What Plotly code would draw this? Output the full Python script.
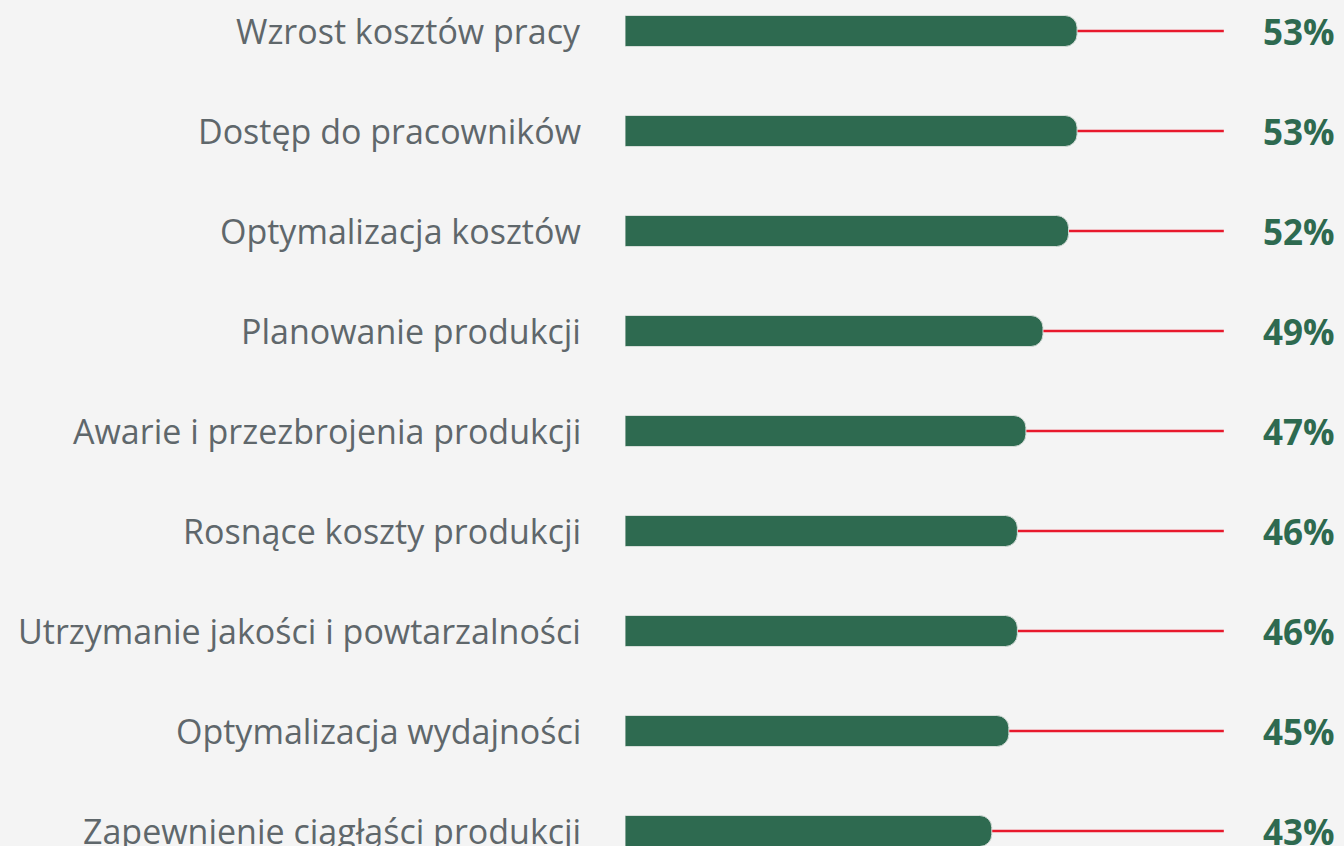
import plotly.graph_objects as go

categories = [
    "Wzrost kosztów pracy",
    "Dostęp do pracowników",
    "Optymalizacja kosztów",
    "Planowanie produkcji",
    "Awarie i przezbrojenia produkcji",
    "Rosnące koszty produkcji",
    "Utrzymanie jakości i powtarzalności",
    "Optymalizacja wydajności",
    "Zapewnienie ciągłąści produkcji",
]
values = [53, 53, 52, 49, 47, 46, 46, 45, 43]
track_max = [70.2] * len(categories)
value_labels = [f"{v}%" for v in values]

GREEN = "#2e6a50"
RED = "#e8192c"
GRAY = "#5f676b"
BG = "#f4f4f4"

W, H = 1344, 846
left_px = 625
px_per_unit = 8.53
x_max = (W - left_px) / px_per_unit

ypos = list(range(len(categories)))

fig = go.Figure()

fig.add_trace(go.Bar(
    x=values, y=ypos, orientation="h", width=0.31,
    marker=dict(color=GREEN, cornerradius=12,
                line=dict(color="#d5dcd8", width=1)),
    showlegend=False,
))

# red track lines beneath the bars
shapes = []
for i, t in zip(ypos, track_max):
    shapes.append(dict(type="line", xref="x", yref="y", x0=0, x1=t, y0=i, y1=i,
                       line=dict(color=RED, width=2.5), layer="below"))

annotations = []
for i, (c, lab) in enumerate(zip(categories, value_labels)):
    annotations.append(dict(
        x=0, y=i, xref="paper", yref="y", text=c, showarrow=False,
        xanchor="right", yanchor="middle", xshift=-42,
        font=dict(family="Open Sans", size=34, color=GRAY)))
    annotations.append(dict(
        x=1, y=i, xref="paper", yref="y", text=lab, showarrow=False,
        xanchor="right", yanchor="middle", xshift=-7,
        font=dict(family="Open Sans", size=35, color=GREEN, weight="bold")))

fig.update_layout(
    width=W, height=H,
    margin=dict(l=left_px, r=0, t=0, b=0),
    paper_bgcolor=BG, plot_bgcolor=BG,
    xaxis=dict(range=[0, x_max], visible=False, fixedrange=True),
    yaxis=dict(range=[8.15, -0.31], visible=False, fixedrange=True),
    annotations=annotations,
    shapes=shapes,
)

fig.write_html(
    "out.html",
    config={"displayModeBar": False},
    post_script="document.body.style.margin='0';document.body.style.overflow='hidden';",
)
